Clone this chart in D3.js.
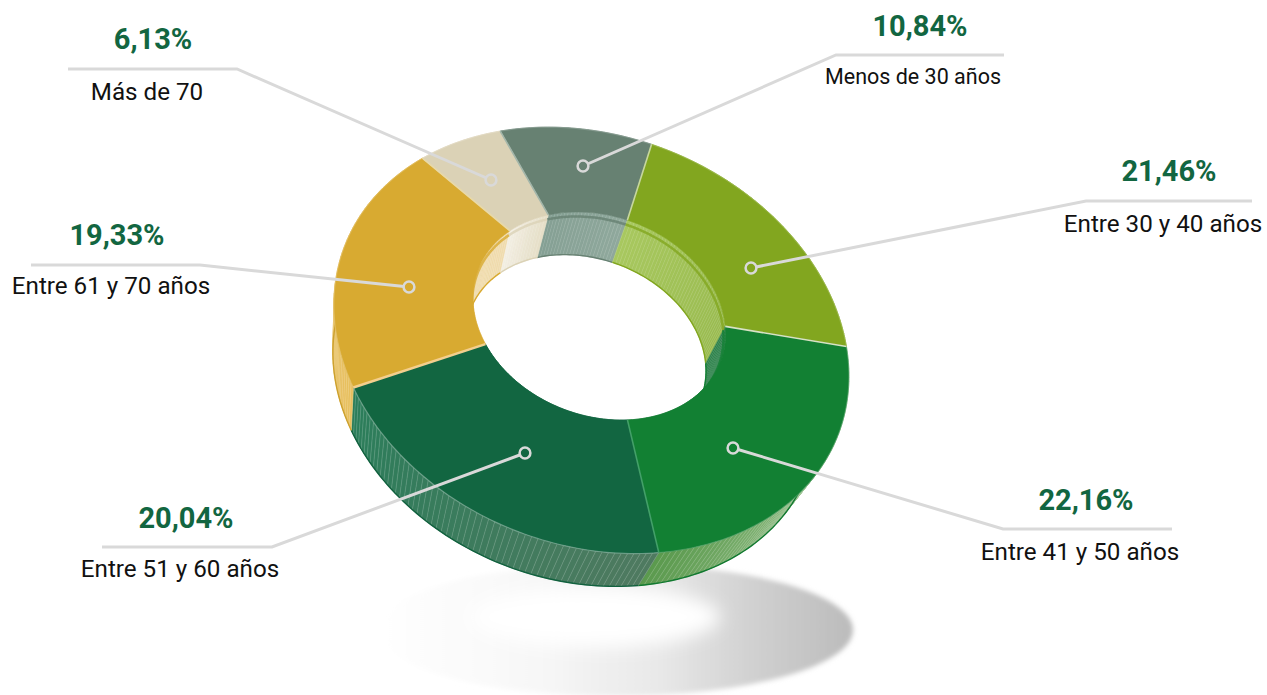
<!DOCTYPE html>
<html lang="es">
<head>
<meta charset="utf-8">
<script src="https://cdn.jsdelivr.net/npm/d3@7"></script>
<style>
  html, body { margin: 0; background: #fff; }
  svg { display: block; }
  text { font-family: Roboto, sans-serif; text-anchor: middle; }
  .value { font-size: 29px; font-weight: 700; fill: #126641; }
  .name { fill: #111; }
</style>
</head>
<body>
<div id="donut"></div>
<script>
// values, clockwise from the top seam
const categories = ["Menos de 30 años", "Entre 30 y 40 años", "Entre 41 y 50 años", "Entre 51 y 60 años", "Entre 61 y 70 años", "Más de 70"];
const shares = [10.84, 21.46, 22.16, 20.04, 19.33, 6.13];

// slice colours: top face, outer wall (start, end), inner wall (start, end), seam
const faceColors = ["#678172", "#82a61f", "#128033", "#126641", "#d8aa31", "#dbd2b6"];
const outerWallFrom = ["#678172", "#82a61f", "#c9e0bd", "#4f7a60", "#e7bf5e", "#dbd2b6"];
const outerWallTo = ["#678172", "#82a61f", "#5b9a4e", "#2a7d5a", "#e2b64c", "#dbd2b6"];
const innerWallFrom = ["#85a094", "#a8c85f", "#2a8048", "#126641", "#eed59f", "#f3efe3"];
const innerWallTo = ["#8fa89c", "#98ba4e", "#2a8048", "#126641", "#f0dcae", "#e6dfc8"];
const seamColors = ["#c7d6a0", "#d8e2c4", "#43a068", "#f3cf8e", "#e8d9a8", "#a3b6aa"];

// label layout: text centres and baselines, elbow line, dot
const valueX = [920, 1169, 1086, 186, 117, 153];
const valueY = [36, 181, 510, 528, 245, 49];
const nameX = [913, 1163, 1080, 180, 111, 147];
const nameY = [84, 232, 560, 577, 294, 100];
const nameSize = [21.5, 24.2, 24.2, 24.2, 24.2, 24.2];
const leaderEnd = [[1004, 55], [1252, 201], [1172, 529], [102, 547], [31, 265], [68, 69]];
const leaderElbow = [[836, 55], [1086, 201], [1003, 529], [272, 547], [200, 265], [237, 69]];
const leaderDot = [[583, 166], [751, 268], [733, 448], [525, 453], [409, 287], [491, 180]];

const width = 1267, height = 695;
const svg = d3.select("#donut").append("svg").attr("width", width).attr("height", height);
const defs = svg.append("defs");

// perspective mapping of the flat ring onto the page (fitted to the picture)
const center = [604.7, 313.3], holeShift = [-2.2, -3.8];
const holeRadius = 0.495;
const m = { a: -114.9, b: 227, d: -200.4, e: -60.1, g: 0.0998, h: 0.1078 };
// the extrusion runs towards this vanishing point
const vanish = [318, 1100], outerDepth = 0.94, innerDepth = 0.952;

function project(angle, r) {
  const u = r * Math.cos(angle), v = r * Math.sin(angle), w = 1 + m.g * u + m.h * v;
  const s = r < 1 ? holeShift : [0, 0];
  return [center[0] + s[0] + (m.a * u + m.b * v) / w, center[1] + s[1] + (m.d * u + m.e * v) / w];
}
function drop(p, k) {
  return [vanish[0] + k * (p[0] - vanish[0]), vanish[1] + k * (p[1] - vanish[1])];
}
function angles(a0, a1, step) {
  const n = Math.max(2, Math.ceil((a1 - a0) / step));
  return d3.range(n + 1).map(i => a0 + (a1 - a0) * i / n);
}

const line = d3.line();
const slices = d3.pie().sort(null)(shares);

// shadow on the ground
const shadowFill = defs.append("linearGradient").attr("id", "shadowFill")
  .attr("gradientUnits", "userSpaceOnUse").attr("x1", 375).attr("x2", 850).attr("y1", 0).attr("y2", 0);
shadowFill.append("stop").attr("offset", 0).attr("stop-color", "#fff");
shadowFill.append("stop").attr("offset", 0.35).attr("stop-color", "#f7f7f7");
shadowFill.append("stop").attr("offset", 0.6).attr("stop-color", "#e8e8e8");
shadowFill.append("stop").attr("offset", 0.8).attr("stop-color", "#d0d0d0");
shadowFill.append("stop").attr("offset", 1).attr("stop-color", "#bcbcbc");
defs.append("filter").attr("id", "soft").attr("x", "-10%").attr("y", "-30%").attr("width", "120%").attr("height", "160%")
  .append("feGaussianBlur").attr("stdDeviation", 2.5);
defs.append("filter").attr("id", "softer").attr("x", "-20%").attr("y", "-50%").attr("width", "140%").attr("height", "200%")
  .append("feGaussianBlur").attr("stdDeviation", 9);
const shadow = svg.append("g");
shadow.append("ellipse").attr("cx", 615).attr("cy", 630).attr("rx", 238).attr("ry", 66)
  .attr("fill", "url(#shadowFill)").attr("filter", "url(#soft)");
shadow.append("ellipse").attr("cx", 595).attr("cy", 617).attr("rx", 125).attr("ry", 30)
  .attr("fill", "#fff").attr("filter", "url(#softer)");

// walls, one thin facet at a time so the light seams show like in the render
const walls = svg.append("g");
function wall(slice, i, r, depth, from, to, step, hatch) {
  const color = d3.interpolateRgb(from[i], to[i]);
  const cuts = angles(slice.startAngle, slice.endAngle, step);
  const g = walls.append("g");
  d3.pairs(cuts).forEach(([a0, a1], k) => {
    const p0 = project(a0, r), p1 = project(a1, r);
    const c = color(k / (cuts.length - 2));
    g.append("path")
      .attr("d", line([p0, p1, drop(p1, depth), drop(p0, depth)]) + "Z")
      .attr("fill", c).attr("stroke", c).attr("stroke-width", 0.6);
    g.append("path")
      .attr("d", line([p0, drop(p0, depth)]))
      .attr("stroke", "#fff").attr("stroke-opacity", hatch).attr("stroke-width", 0.8);
  });
  // lower edge of the wall
  g.append("path")
    .attr("d", line(cuts.map(a => drop(project(a, r), depth))))
    .attr("fill", "none").attr("stroke", r < 1 ? faceColors[i] : d3.color(faceColors[i]).darker(0.15)).attr("stroke-width", 1.4);
}
slices.forEach((s, i) => wall(s, i, holeRadius, innerDepth, innerWallFrom, innerWallTo, 0.03, 0.12));
slices.forEach((s, i) => wall(s, i, 1, outerDepth, outerWallFrom, outerWallTo, 0.022, 0.2));

// rim band just under the hole edge on the far side
const rim = svg.append("g");
slices.forEach((s, i) => {
  rim.append("path")
    .attr("d", line(angles(s.startAngle, s.endAngle, 0.03).map(a => drop(project(a, holeRadius), 0.995))))
    .attr("fill", "none").attr("stroke", faceColors[i]).attr("stroke-opacity", 0.8).attr("stroke-width", 2.5);
});

// top faces
const faces = svg.append("g");
slices.forEach((s, i) => {
  const cuts = angles(s.startAngle, s.endAngle, 0.02);
  const ring = cuts.map(a => project(a, 1)).concat(cuts.slice().reverse().map(a => project(a, holeRadius)));
  faces.append("path").attr("d", line(ring) + "Z")
    .attr("fill", faceColors[i]).attr("stroke", faceColors[i]).attr("stroke-width", 0.6);
});
// thin bevel along the front of the top face
slices.forEach((s, i) => {
  faces.append("path")
    .attr("d", line(angles(s.startAngle, s.endAngle, 0.02).map(a => project(a, 1))))
    .attr("fill", "none").attr("stroke", "#fff").attr("stroke-opacity", i === 3 ? 0.32 : 0.18).attr("stroke-width", 1.2);
});
// seams between slices
slices.forEach((s, i) => {
  faces.append("path")
    .attr("d", line([project(s.endAngle, holeRadius), project(s.endAngle, 1)]))
    .attr("stroke", seamColors[i]).attr("stroke-width", i === 3 ? 2.4 : 1.6);
});

// leaders and labels
const labels = svg.append("g").selectAll("g").data(categories).join("g");
labels.append("path")
  .attr("d", (d, i) => line([leaderEnd[i], leaderElbow[i], leaderDot[i]]))
  .attr("fill", "none").attr("stroke", "#d9d9d9").attr("stroke-width", 3);
labels.append("circle")
  .attr("cx", (d, i) => leaderDot[i][0]).attr("cy", (d, i) => leaderDot[i][1]).attr("r", 5.4)
  .attr("fill", (d, i) => faceColors[i]).attr("stroke", "#d9d9d9").attr("stroke-width", 2.5);
labels.append("text").attr("class", "value")
  .attr("x", (d, i) => valueX[i]).attr("y", (d, i) => valueY[i])
  .text((d, i) => shares[i].toFixed(2).replace(".", ",") + "%");
labels.append("text").attr("class", "name")
  .attr("x", (d, i) => nameX[i]).attr("y", (d, i) => nameY[i])
  .style("font-size", (d, i) => nameSize[i] + "px")
  .text(d => d);
</script>
</body>
</html>
